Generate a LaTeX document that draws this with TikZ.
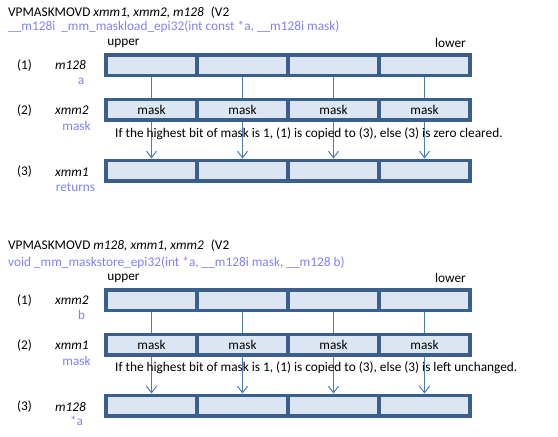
\documentclass[tikz,border=0pt]{standalone}
\usepackage{fontspec}
\setmainfont{Carlito}
\usetikzlibrary{arrows.meta}
\definecolor{cellborder}{RGB}{58,95,141}
\definecolor{cellfill}{RGB}{220,230,242}
\definecolor{connblue}{RGB}{74,126,187}
\definecolor{labelblue}{RGB}{128,128,255}
\begin{document}
\begin{tikzpicture}[x=1pt,y=-1pt,
  every node/.style={inner sep=0pt,font=\fontsize{13.3}{16}\selectfont},
  cell/.style={draw=cellborder,line width=3.5pt,fill=cellfill,minimum width=91pt,minimum height=20.5pt},
  conn/.style={draw=connblue,line width=1.2pt},
  arr/.style={conn,-{Straight Barb[length=6.5pt,width=10pt,line width=1pt]}},
  num/.style={},
  reg/.style={anchor=west,font=\fontsize{13.3}{16}\selectfont\itshape},
  sub/.style={text=labelblue},
  txt/.style={anchor=west}]
\useasboundingbox (0,0) rectangle (558,437);
\foreach \s/\yo in {T/0,B/235}{
  \foreach \c in {1,...,4}{
    \node[cell] (\s1\c) at ({106+91*(\c-0.5)},{65+\yo}) {};
    \node[cell] (\s2\c) at ({106+91*(\c-0.5)},{109.5+\yo}) {mask};
    \node[cell] (\s3\c) at ({106+91*(\c-0.5)},{170.5+\yo}) {};
  }
  \foreach \c in {1,...,4}{
    \draw[conn] (\s1\c.south) -- (\s2\c.north);
    \draw[arr] (\s2\c.south) -- (\s3\c.north);
  }
  \node (\s up) at (123.5,{43+\yo}) {upper};
  \node[anchor=east] (\s low) at (466,{43+\yo}) {lower};
  \node[num] (\s n1) at (24.5,{65.5+\yo}) {(1)};
  \node[num] (\s n2) at (24.5,{110.5+\yo}) {(2)};
  \node[num] (\s n3) at (24.5,{172+\yo}) {(3)};
}
% top section
\node[txt] (Ttitle) at (8,13) {VPMASKMOVD \textit{xmm1, xmm2, m128}\hspace{7pt}(V2};
\node[txt,sub] (Tsub) at (8,27) {\_\_m128i\hspace{6pt}\_mm\_maskload\_epi32(int const *a, \_\_m128i mask)};
\node[reg] (Tr1) at (55,65) {m128};
\node[sub] (Ts1) at (81,81) {a};
\node[reg] (Tr2) at (55,110) {xmm2};
\node[sub] (Ts2) at (76.5,126) {mask};
\node[reg] (Tr3) at (55,172) {xmm1};
\node[sub] (Ts3) at (75.5,187) {returns};
\node[txt] (Tnote) at (115,134) {If the highest bit of mask is 1, (1) is copied to (3), else (3) is zero cleared.};
% bottom section
\node[txt] (Btitle) at (8,246) {VPMASKMOVD \textit{m128, xmm1, xmm2}\hspace{7pt}(V2};
\node[txt,sub] (Bsub) at (8,263) {void \_mm\_maskstore\_epi32(int *a, \_\_m128i mask, \_\_m128 b)};
\node[reg] (Br1) at (55,300) {xmm2};
\node[sub] (Bs1) at (81.5,315) {b};
\node[reg] (Br2) at (55,345) {xmm1};
\node[sub] (Bs2) at (76.5,361) {mask};
\node[reg] (Br3) at (55,407) {m128};
\node[sub] (Bs3) at (76.5,421) {*a};
\node[txt] (Bnote) at (115,368) {If the highest bit of mask is 1, (1) is copied to (3), else (3) is left unchanged.};
\end{tikzpicture}
\end{document}
